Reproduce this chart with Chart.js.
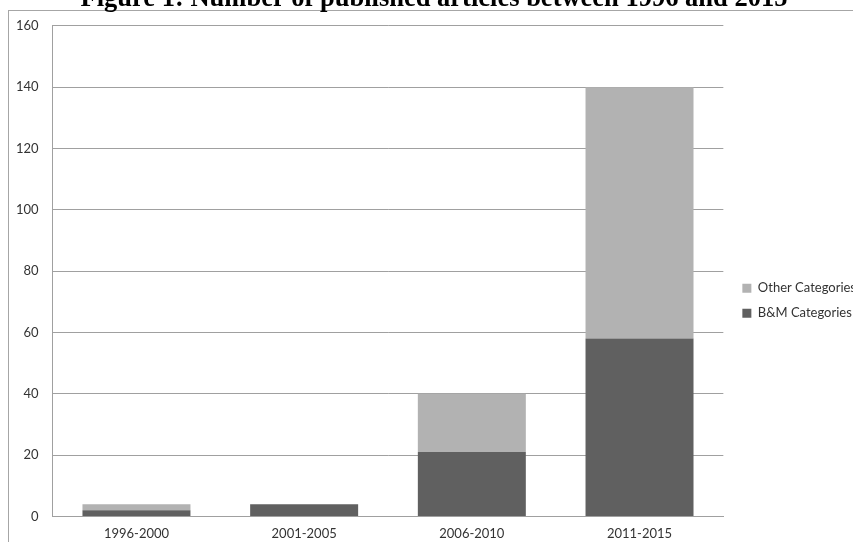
<!DOCTYPE html>
<html>
<head>
<meta charset="utf-8">
<script src="https://cdn.jsdelivr.net/npm/chart.js@4.4.0/dist/chart.umd.min.js"></script>
<style>
  html, body { margin: 0; padding: 0; background: #fff; overflow: hidden; width: 853px; height: 542px; }
  #frame { position: absolute; left: 8px; top: 10px; width: 900px; height: 600px;
           border-left: 1px solid #a6a6a6; border-top: 1px solid #a6a6a6; }
  #wrap { position: absolute; left: 0; top: -17px; width: 866px; height: 570px; }
</style>
</head>
<body>
<div id="frame"></div>
<div id="wrap"><canvas id="myChart"></canvas></div>
<script>
var periods = ["1996-2000", "2001-2005", "2006-2010", "2011-2015"];
var bmCategories = [2, 4, 21, 58];
var otherCategories = [2, 0, 19, 82];
var yTicks = [0, 20, 40, 60, 80, 100, 120, 140, 160];

var ctx = document.getElementById("myChart").getContext("2d");

var barChart = new Chart(ctx, {
    type: "bar",
    data: {
        labels: periods,
        datasets: [
            {
                label: "B&M Categories",
                data: bmCategories,
                backgroundColor: "#606060"
            },
            {
                label: "Other Categories",
                data: otherCategories,
                backgroundColor: "#b2b2b2"
            }
        ]
    },
    options: {
        responsive: true,
        maintainAspectRatio: false,
        animation: false,
        layout: { padding: { left: 2, right: 0, top: 0, bottom: 1 } },
        datasets: { bar: { categoryPercentage: 1, barPercentage: 0.644 } },
        plugins: {
            title: {
                display: true,
                text: "Figure 1: Number of published articles between 1996 and 2015",
                color: "#000",
                font: { family: "Liberation Serif", size: 26.5, weight: "bold" },
                padding: { top: 0, bottom: 11 }
            },
            legend: {
                position: "right",
                reverse: true,
                title: { display: true, text: " ", padding: { top: 52, bottom: 0 } },
                labels: {
                    boxWidth: 9,
                    boxHeight: 9,
                    padding: 12,
                    color: "#333",
                    font: { family: "Lato", size: 13 }
                }
            },
            tooltip: { enabled: false }
        },
        scales: {
            x: {
                stacked: true,
                grid: { display: false, drawTicks: false },
                border: { color: "#a0a0a0" },
                ticks: { color: "#333", padding: 10, font: { family: "Lato", size: 13 } }
            },
            y: {
                stacked: true,
                min: 0,
                max: 160,
                afterBuildTicks: function (scale) {
                    scale.ticks = yTicks.map(function (v) { return { value: v }; });
                },
                grid: { color: "#a0a0a0", drawTicks: false },
                border: { color: "#a0a0a0" },
                ticks: { color: "#333", padding: 14, font: { family: "Lato", size: 13 } }
            },
            gap: {
                position: "right",
                display: true,
                grid: { display: false },
                border: { display: false },
                ticks: { display: false },
                afterFit: function (scale) { scale.width = 7; }
            }
        }
    }
});
</script>
</body>
</html>
